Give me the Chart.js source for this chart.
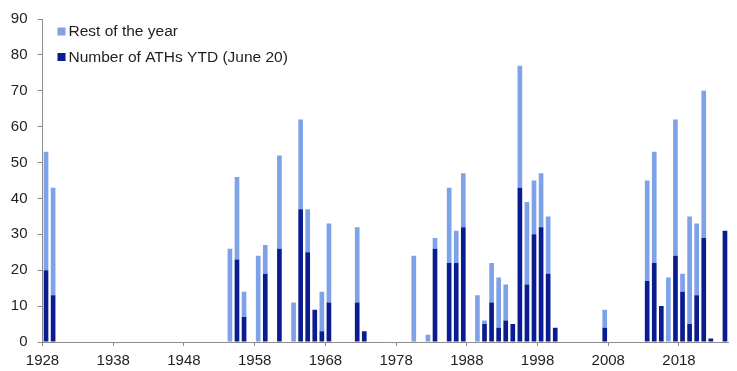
<!DOCTYPE html>
<html>
<head>
<meta charset="utf-8">
<script src="https://cdn.jsdelivr.net/npm/chart.js@4/dist/chart.umd.min.js"></script>
<style>
  html, body { margin: 0; padding: 0; background: #fff; }
  #wrap { width: 737px; height: 371px; position: relative; }
</style>
</head>
<body>
<div id="wrap"><canvas id="c"></canvas></div>
<script>
// Years with all-time highs (S&P 500)
const years = [1928, 1929, 1954, 1955, 1956, 1958, 1959, 1961, 1963, 1964, 1965, 1966, 1967, 1968,
  1972, 1973, 1980, 1982, 1983, 1985, 1986, 1987, 1989, 1990, 1991, 1992, 1993, 1994, 1995, 1996,
  1997, 1998, 1999, 2000, 2007, 2013, 2014, 2015, 2016, 2017, 2018, 2019, 2020, 2021, 2022, 2024];
// Number of ATHs up to June 20
const ytd = [20, 13, 0, 23, 7, 0, 19, 26, 0, 37, 25, 9, 3, 11,
  11, 3, 0, 0, 26, 22, 22, 32, 0, 5, 11, 4, 6, 5, 43, 16,
  30, 32, 19, 4, 4, 17, 22, 10, 0, 24, 14, 5, 13, 29, 1, 31];
// ATHs during the rest of the year
const rest = [33, 30, 26, 23, 7, 24, 8, 26, 11, 25, 12, 0, 11, 22,
  21, 0, 24, 2, 3, 21, 9, 15, 13, 1, 11, 14, 10, 0, 34, 23,
  15, 15, 16, 0, 5, 28, 31, 0, 18, 38, 5, 30, 20, 41, 0, 0];
const xTickYears = [1928, 1938, 1948, 1958, 1968, 1978, 1988, 1998, 2008, 2018];
const yTicks = [0, 10, 20, 30, 40, 50, 60, 70, 80, 90];

const LIGHT = '#7da2e8';
const DARK = '#0a1c8f';
const TEXT = '#1e1e1e';
const AXIS = '#8c8c8c';
const FONT = 'Liberation Sans, Arial, sans-serif';

const toPts = arr => years.map((yr, i) => ({ x: yr + 0.5, y: arr[i] }));

const legendPlugin = {
  id: 'insideLegend',
  afterDraw(chart) {
    const ctx = chart.ctx;
    const items = [
      { label: chart.data.datasets[1].label, color: chart.data.datasets[1].backgroundColor, y: 31.5 },
      { label: chart.data.datasets[0].label, color: chart.data.datasets[0].backgroundColor, y: 57 }
    ];
    ctx.save();
    ctx.font = '15.5px ' + FONT;
    ctx.textBaseline = 'middle';
    ctx.textAlign = 'left';
    items.forEach(it => {
      ctx.fillStyle = it.color;
      ctx.fillRect(57.5, it.y - 4, 8, 8);
      ctx.fillStyle = TEXT;
      ctx.fillText(it.label, 68.5, it.y + 0.5);
    });
    ctx.restore();
  }
};

new Chart(document.getElementById('c'), {
  type: 'bar',
  data: {
    datasets: [
      { label: 'Number of ATHs YTD (June 20)', data: toPts(ytd), backgroundColor: DARK,
        categoryPercentage: 1, barPercentage: 0.66 },
      { label: 'Rest of the year', data: toPts(rest), backgroundColor: LIGHT,
        categoryPercentage: 1, barPercentage: 0.66 }
    ]
  },
  options: {
    responsive: true,
    maintainAspectRatio: false,
    animation: false,
    layout: { padding: { top: 14, right: 8.5, left: 0, bottom: 0 } },
    plugins: { legend: { display: false }, tooltip: { enabled: false } },
    scales: {
      x: {
        type: 'linear',
        stacked: true,
        offset: false,
        min: 1928,
        max: 2025,
        afterBuildTicks: s => { s.ticks = xTickYears.map(v => ({ value: v })); },
        afterFit: s => { s.height = 29; },
        border: { display: true, color: AXIS, width: 1 },
        grid: { offset: false, drawOnChartArea: false, drawTicks: true, tickLength: 4, color: AXIS },
        ticks: { color: TEXT, font: { family: FONT, size: 15 }, padding: 6,
                 maxRotation: 0, autoSkip: false, callback: v => String(v) }
      },
      y: {
        stacked: true,
        min: 0,
        max: 90,
        afterBuildTicks: s => { s.ticks = yTicks.map(v => ({ value: v })); },
        afterFit: s => { s.width = 42.5; },
        border: { display: true, color: AXIS, width: 1 },
        grid: { drawOnChartArea: false, drawTicks: true, tickLength: 5, color: AXIS },
        ticks: { color: TEXT, font: { family: FONT, size: 15 }, padding: 10,
                 callback: v => String(v) }
      }
    }
  },
  plugins: [legendPlugin]
});
</script>
</body>
</html>
